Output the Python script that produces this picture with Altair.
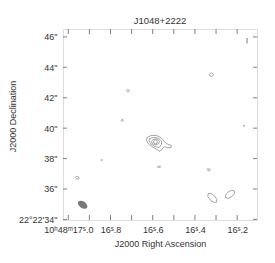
import altair as alt
import pandas as pd

title_text = "J1048+2222"
x_title = "J2000 Right Ascension"
y_title = "J2000 Declination"

ra_domain = [16.106, 17.025]
dec_domain = [33.96, 46.52]

ra_tick_values = [17.0, 16.9, 16.8, 16.7, 16.6, 16.5, 16.4, 16.3, 16.2]
ra_label_values = [17.0, 16.8, 16.6, 16.4, 16.2]
ra_label_texts = ["10ʰ48ᵐ17ˢ.0", "16ˢ.8", "16ˢ.6", "16ˢ.4", "16ˢ.2"]
dec_tick_values = [34, 36, 38, 40, 42, 44, 46]
dec_label_texts = ["22°22'34\"", '36"', '38"', '40"', '42"', '44"', '46"']

# contour polygons (RA seconds, Dec arcsec within 22°22')
core_1 = [(16.6270, 39.382), (16.6081, 39.513), (16.5844, 39.526), (16.5607, 39.382),
          (16.5464, 39.151), (16.5370, 38.987), (16.5227, 38.921), (16.5109, 38.855),
          (16.5133, 38.724), (16.5275, 38.704), (16.5441, 38.789), (16.5559, 38.625),
          (16.5654, 38.474), (16.5796, 38.592), (16.6033, 38.789), (16.6223, 38.987),
          (16.6294, 39.217)]
core_2 = [(16.6152, 39.316), (16.5938, 39.395), (16.5725, 39.329), (16.5583, 39.151),
          (16.5583, 38.921), (16.5701, 38.724), (16.5891, 38.789), (16.6081, 38.954),
          (16.6175, 39.151)]
core_3 = [(16.5678, 39.099), (16.5735, 39.237), (16.5867, 39.296), (16.6000, 39.237),
          (16.6057, 39.099), (16.6000, 38.961), (16.5867, 38.901), (16.5735, 38.961)]
core_4 = [(16.5773, 39.099), (16.5801, 39.191), (16.5867, 39.230), (16.5934, 39.191),
          (16.5962, 39.099), (16.5934, 39.007), (16.5867, 38.967), (16.5801, 39.007)]
blob_a = [(16.3128, 43.513), (16.3156, 43.592), (16.3223, 43.625), (16.3290, 43.592),
          (16.3318, 43.513), (16.3290, 43.434), (16.3223, 43.401), (16.3156, 43.434)]
blob_b = [(16.7100, 42.461), (16.7135, 42.535), (16.7206, 42.535), (16.7242, 42.461),
          (16.7206, 42.387), (16.7135, 42.387)]
blob_c = [(16.7379, 40.513), (16.7410, 40.564), (16.7472, 40.564), (16.7503, 40.513),
          (16.7472, 40.462), (16.7410, 40.462)]
blob_d = [(16.1635, 40.158), (16.1673, 40.211), (16.1711, 40.158), (16.1673, 40.105)]
blob_e = [(16.8379, 37.901), (16.8417, 37.954), (16.8455, 37.901), (16.8417, 37.848)]
blob_f = [(16.5620, 37.461), (16.5661, 37.501), (16.5742, 37.501), (16.5782, 37.461),
          (16.5742, 37.421), (16.5661, 37.421)]
blob_g = [(16.3270, 37.230), (16.3308, 37.320), (16.3384, 37.330), (16.3422, 37.296),
          (16.3384, 37.206), (16.3308, 37.196)]
blob_h = [(16.9478, 36.700), (16.9526, 36.800), (16.9621, 36.820), (16.9668, 36.770),
          (16.9621, 36.670), (16.9526, 36.650)]
blob_i = [(16.2974, 35.136), (16.2962, 35.316), (16.3075, 35.554), (16.3247, 35.711),
          (16.3376, 35.693), (16.3389, 35.513), (16.3276, 35.275), (16.3104, 35.118)]
blob_j = [(16.2128, 35.868), (16.2129, 35.693), (16.2251, 35.493), (16.2424, 35.386),
          (16.2545, 35.434), (16.2544, 35.610), (16.2422, 35.809), (16.2249, 35.916)]
blob_k = [(16.1531, 45.930), (16.1524, 45.750), (16.1531, 45.570), (16.1538, 45.750)]

contours = [core_1, core_2, core_3, core_4, blob_a, blob_b, blob_c, blob_d,
            blob_e, blob_f, blob_g, blob_h, blob_i, blob_j, blob_k]

beam_ra = 16.9318
beam_dec = 34.961
beam_major = 0.70   # arcsec
beam_minor = 0.43   # arcsec
beam_pa = 55        # degrees

W, H = 194, 191

rows = []
for cid, poly in enumerate(contours):
    pts = list(poly) + [poly[0]]
    for i, (r, d) in enumerate(pts):
        rows.append({"cid": cid, "idx": i, "ra": r, "dec": d})
cdf = pd.DataFrame(rows)

xs = alt.Scale(domain=ra_domain, reverse=True, nice=False, zero=False)
ys = alt.Scale(domain=dec_domain, nice=False, zero=False)

def label_expr(vals, texts, fmt):
    expr = "''"
    for v, t in zip(reversed(vals), reversed(texts)):
        t_esc = t.replace("'", "\\'")
        expr = f"(format(datum.value,'{fmt}')=='{format(v, fmt)}' ? '{t_esc}' : {expr})"
    return expr

font = "Liberation Sans"
tcol = "#333333"

x_axis = alt.Axis(
    values=ra_label_values, labelExpr=label_expr(ra_label_values, ra_label_texts, ".1f"),
    title=x_title, ticks=False, domain=False, grid=False, labelPadding=5,
    labelFontSize=9, labelFont=font, labelColor=tcol, titleFontSize=9, titleFont=font,
    titleColor=tcol, titleFontWeight="normal", titleX=W / 2, titleY=23,
    titleBaseline="middle", labelFlush=False, labelOverlap=False)
y_axis = alt.Axis(
    values=dec_tick_values, labelExpr=label_expr(dec_tick_values, dec_label_texts, ".0f"),
    title=y_title, ticks=False, domain=False, grid=False, labelPadding=6,
    labelFontSize=9, labelFont=font, labelColor=tcol, titleFontSize=9, titleFont=font,
    titleColor=tcol, titleFontWeight="normal", titleX=-51, titleY=87,
    titleBaseline="middle", titleAngle=-90, labelFlush=False, labelOverlap=False)

x_enc = alt.X("ra:Q", scale=xs, axis=x_axis)
y_enc = alt.Y("dec:Q", scale=ys, axis=y_axis)

lines = alt.Chart(cdf).mark_line(color="#9c9c9c", strokeWidth=0.9).encode(
    x=x_enc, y=y_enc, detail="cid:N", order="idx:Q")

tick_col = "#808080"
xt = pd.DataFrame({"ra": ra_tick_values})
yt = pd.DataFrame({"dec": dec_tick_values})
bot = alt.Chart(xt).mark_rule(color=tick_col, strokeWidth=1).encode(
    x=x_enc, y=alt.value(H), y2=alt.value(H - 5))
top = alt.Chart(xt).mark_rule(color=tick_col, strokeWidth=1).encode(
    x=x_enc, y=alt.value(0), y2=alt.value(5))
lft = alt.Chart(yt).mark_rule(color=tick_col, strokeWidth=1).encode(
    y=y_enc, x=alt.value(0), x2=alt.value(4))
rgt = alt.Chart(yt).mark_rule(color=tick_col, strokeWidth=1).encode(
    y=y_enc, x=alt.value(W), x2=alt.value(W - 4))

px_per_arcsec = H / (dec_domain[1] - dec_domain[0])
ratio = beam_minor / beam_major
beam_path = f"M-1,0A1,{ratio:.3f} 0 1,0 1,0A1,{ratio:.3f} 0 1,0 -1,0Z"
beam_df = pd.DataFrame({"ra": [beam_ra], "dec": [beam_dec]})
beam = alt.Chart(beam_df).mark_point(
    shape=beam_path, filled=True, color="#777777", opacity=1, strokeWidth=0,
    size=(beam_major * px_per_arcsec) ** 2, angle=90 - beam_pa).encode(
    x=x_enc, y=y_enc)

chart = alt.layer(lines, beam, bot, top, lft, rgt).properties(
    width=W, height=H,
    title=alt.TitleParams(title_text, fontSize=9.5, font=font, color=tcol,
                          fontWeight="normal", offset=3, anchor="middle"),
    autosize=alt.AutoSizeParams(type="none"),
    padding={"left": 55, "top": 21, "right": 10, "bottom": 34},
).configure_view(stroke="#777777", strokeWidth=1).configure(background="white")

chart.save("out.html", embed_options={"renderer": "svg", "actions": False})
